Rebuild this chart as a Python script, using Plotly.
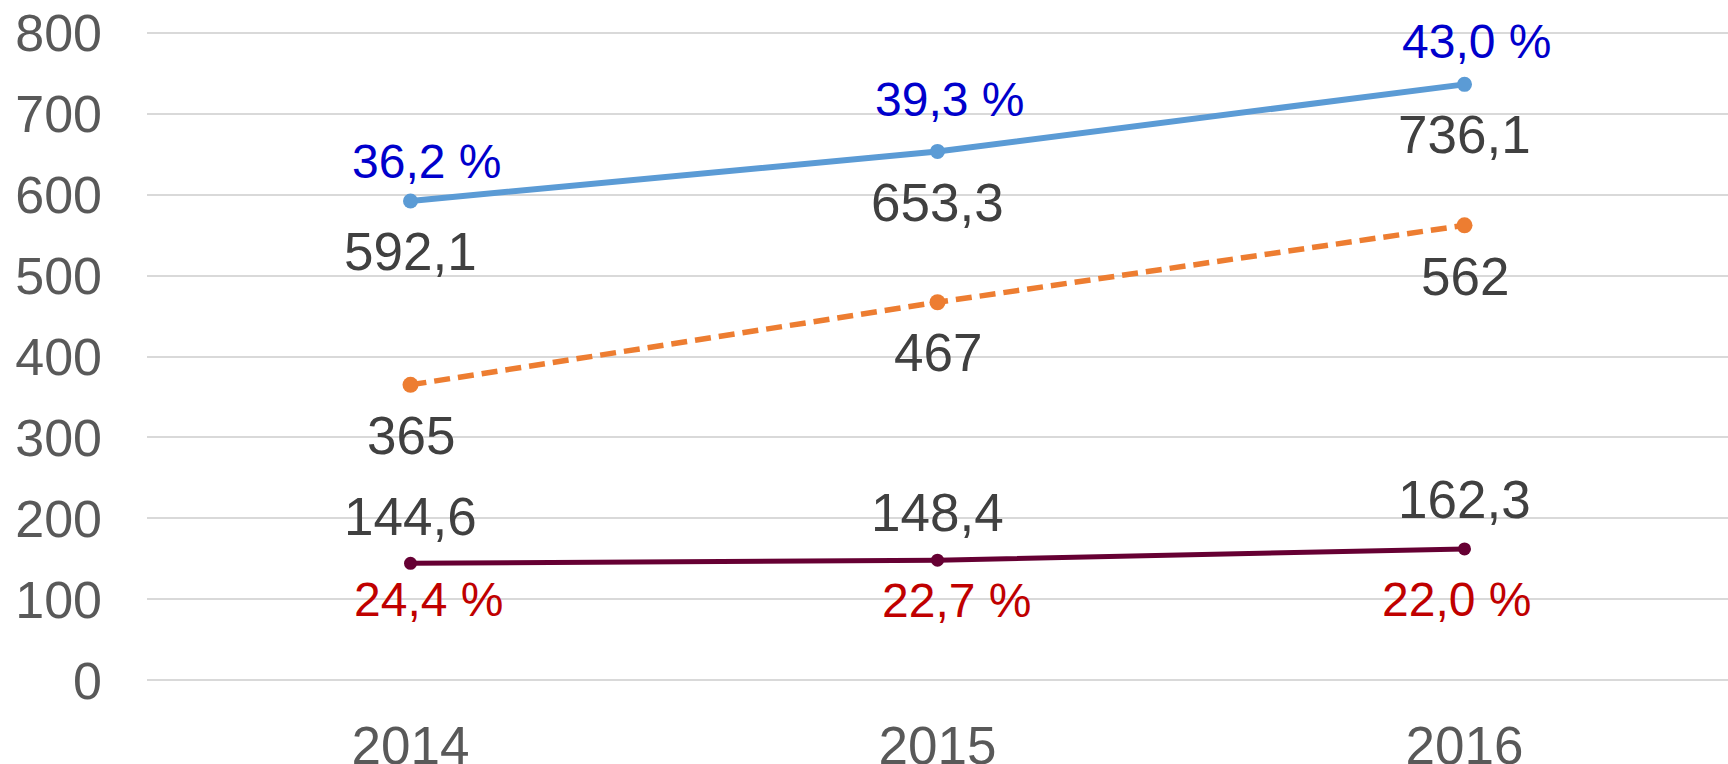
import plotly.graph_objects as go

years = ["2014", "2015", "2016"]
series_top = [592.1, 653.3, 736.1]
series_mid = [365, 467, 562]
series_low = [144.6, 148.4, 162.3]
top_labels = ["592,1", "653,3", "736,1"]
mid_labels = ["365", "467", "562"]
low_labels = ["144,6", "148,4", "162,3"]
top_pct = ["36,2 %", "39,3 %", "43,0 %"]
low_pct = ["24,4 %", "22,7 %", "22,0 %"]
y_ticks = [0, 100, 200, 300, 400, 500, 600, 700, 800]

# label offsets (pixels): vertical (positive = up) and horizontal
top_pct_shift = [39, 52, 43]
top_pct_xshift = [16, 12, 12]
top_val_shift = [-51, -51, -50]
mid_val_shift = [-51, -50, -51]
low_val_shift = [47, 48, 49]
low_pct_shift = [-36, -40, -51]
low_pct_xshift = [18, 19, -8]
zero_x = [0, 0, 0]

FONT = "Liberation Sans, Arial, sans-serif"
fig = go.Figure()

fig.add_trace(go.Scatter(x=years, y=series_top, mode="lines+markers",
                         line=dict(color="#5B9BD5", width=6),
                         marker=dict(size=15, color="#5B9BD5"), showlegend=False))
fig.add_trace(go.Scatter(x=years, y=series_mid, mode="lines+markers",
                         line=dict(color="#ED7D31", width=5.5, dash="16px,8px"),
                         marker=dict(size=16, color="#ED7D31"), showlegend=False))
fig.add_trace(go.Scatter(x=years, y=series_low, mode="lines+markers",
                         line=dict(color="#660033", width=5),
                         marker=dict(size=13, color="#660033"), showlegend=False))

def add_labels(vals, texts, shifts, xshifts, color, size):
    for i, (v, t, s, xs) in enumerate(zip(vals, texts, shifts, xshifts)):
        fig.add_annotation(x=i, y=v, xref="x", yref="y", text=t, showarrow=False,
                           yshift=s, xshift=xs, xanchor="center", yanchor="middle",
                           font=dict(family=FONT, size=size, color=color))

add_labels(series_top, top_pct, top_pct_shift, top_pct_xshift, "#0000CC", 48)
add_labels(series_top, top_labels, top_val_shift, zero_x, "#404040", 53)
add_labels(series_mid, mid_labels, mid_val_shift, zero_x, "#404040", 53)
add_labels(series_low, low_labels, low_val_shift, zero_x, "#404040", 53)
add_labels(series_low, low_pct, low_pct_shift, low_pct_xshift, "#C00000", 48)

fig.update_layout(
    width=1728, height=764,
    margin=dict(l=147, r=0, t=31.4, b=82.4),
    paper_bgcolor="white", plot_bgcolor="white",
    font=dict(family=FONT, size=52, color="#595959"),
    hovermode=False,
    xaxis=dict(type="category", range=[-0.5, 2.5], showgrid=False, zeroline=False,
               showline=False, ticks="", ticklabelstandoff=28, automargin=False,
               tickfont=dict(family=FONT, size=53, color="#595959")),
    yaxis=dict(range=[-2, 802], tickvals=y_ticks, showgrid=True, gridcolor="#D9D9D9",
               gridwidth=2, zeroline=False, showline=False, ticks="",
               ticklabelstandoff=44, automargin=False,
               tickfont=dict(family=FONT, size=52, color="#595959")),
)

fig.write_html(
    "out.html",
    config={"displayModeBar": False},
    post_script="document.body.style.margin='0';document.body.style.overflow='hidden';",
)
